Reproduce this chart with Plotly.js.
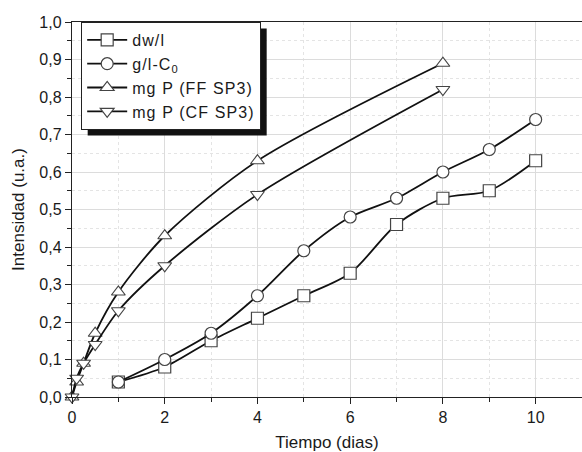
<!DOCTYPE html>
<html><head><meta charset="utf-8">
<script src="https://cdn.plot.ly/plotly-3.0.1.min.js"></script>
<style>html,body{margin:0;padding:0;background:#fff}#chart{width:582px;height:452px}
.legendtext{letter-spacing:1.1px}</style>
</head><body><div id="chart"></div>
<script>
const dayX = [1, 2, 3, 4, 5, 6, 7, 8, 9, 10];
const dwl = [0.04, 0.08, 0.15, 0.21, 0.27, 0.33, 0.46, 0.53, 0.55, 0.63];
const glC0 = [0.04, 0.10, 0.17, 0.27, 0.39, 0.48, 0.53, 0.60, 0.66, 0.74];
const spX = [0, 0.1, 0.25, 0.5, 1, 2, 4, 8];
const ffSP3 = [0.0, 0.04, 0.09, 0.17, 0.28, 0.43, 0.63, 0.89];
const cfSP3 = [0.0, 0.05, 0.09, 0.14, 0.23, 0.35, 0.54, 0.82];
const names = ['dw/l', 'g/l-C<sub>0</sub>', 'mg P (FF SP3)', 'mg P (CF SP3)'];
const xTicks = [0, 2, 4, 6, 8, 10];

function tr(x, y, name, sym) {
  return {x: x, y: y, name: name, type: 'scatter', mode: 'lines+markers',
    line: {color: '#111', width: 1.8, shape: 'spline', smoothing: 0.8},
    marker: {symbol: sym, size: 12, color: '#fff', line: {color: '#444', width: 1.2}},
    cliponaxis: false};
}
const data = [
  tr(dayX, dwl, names[0], 'square'),
  tr(dayX, glC0, names[1], 'circle'),
  tr(spX, ffSP3, names[2], 'triangle-up'),
  tr(spX, cfSP3, names[3], 'triangle-down')
];

const layout = {
  width: 582, height: 452,
  margin: {l: 72, r: 0, t: 22, b: 55},
  paper_bgcolor: '#fff', plot_bgcolor: '#fff',
  separators: ',.',
  font: {family: 'Liberation Sans, Arial, sans-serif', size: 16, color: '#1a1a1a'},
  showlegend: true,
  legend: {x: 0.018, y: 1.0, xanchor: 'left', yanchor: 'top', bgcolor: '#fff',
    bordercolor: '#222', borderwidth: 1, font: {size: 16, color: '#1a1a1a'},
    tracegroupgap: 0, itemwidth: 40},
  xaxis: {range: [0, 11], tickvals: xTicks, ticks: 'outside', ticklen: 6, tickcolor: '#222',
    showline: true, linecolor: '#222', linewidth: 1.2, mirror: true, zeroline: false,
    showgrid: true, gridcolor: '#dcdcdc', gridwidth: 1,
    minor: {dtick: 1, tick0: 0, ticks: 'outside', ticklen: 4, tickcolor: '#222', showgrid: true, gridcolor: '#e4e4e4', griddash: 'dot'},
    title: {text: 'Tiempo (dias)', font: {size: 17}, standoff: 12}},
  yaxis: {range: [0, 1.0], dtick: 0.1, tickformat: '.1f', ticks: 'outside', ticklen: 6, tickcolor: '#222',
    showline: true, linecolor: '#222', linewidth: 1.2, mirror: true, zeroline: false,
    showgrid: true, gridcolor: '#dcdcdc', gridwidth: 1,
    minor: {dtick: 0.05, tick0: 0, ticks: 'outside', ticklen: 4, tickcolor: '#222', showgrid: true, gridcolor: '#e4e4e4', griddash: 'dot'},
    title: {text: 'Intensidad (u.a.)', font: {size: 17}, standoff: 10}},
  shapes: []
};
Plotly.newPlot('chart', data, layout, {staticPlot: true}).then(gd => {
  const bg = gd.querySelector('.legend .bg');
  if (!bg) return;
  const r = bg.getBoundingClientRect();
  const c = gd.getBoundingClientRect();
  const fl = gd._fullLayout, s = fl._size;
  const off = 6;
  const toPX = px => (px - c.left - s.l) / s.w;
  const toPY = py => 1 - (py - c.top - s.t) / s.h;
  Plotly.relayout(gd, {shapes: [{type: 'rect', xref: 'paper', yref: 'paper',
    x0: toPX(r.left + off), x1: toPX(r.right + off),
    y0: toPY(r.bottom + off), y1: toPY(r.top + off),
    fillcolor: '#111', line: {width: 0}, layer: 'above'}]});
});
</script></body></html>
